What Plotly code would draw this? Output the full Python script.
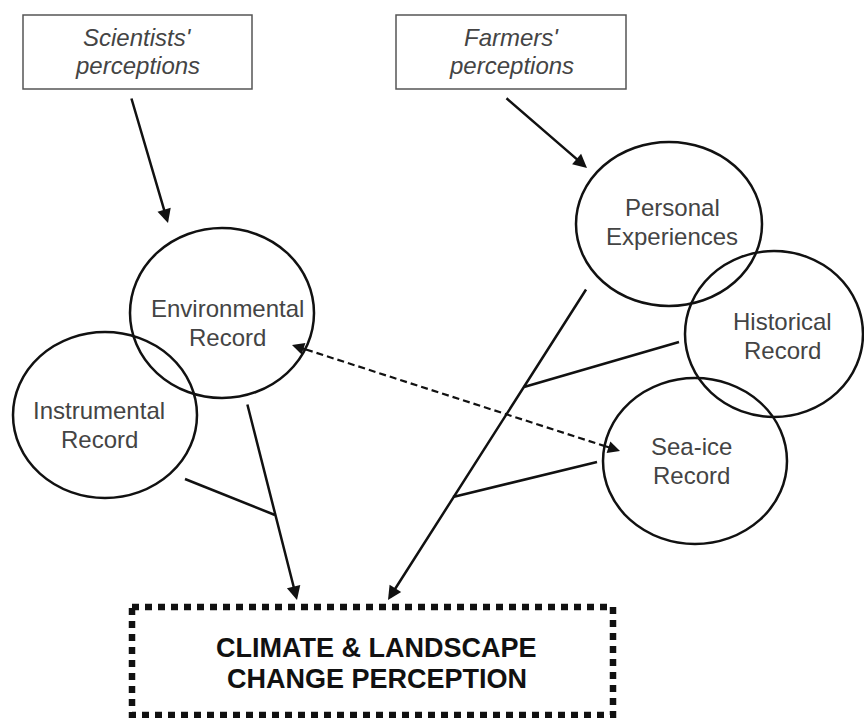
import plotly.graph_objects as go

W, H = 864, 718
FONT = "Liberation Sans, Arial, sans-serif"

# ---- diagram content ----
source_labels = ["Scientists'", "perceptions"], ["Farmers'", "perceptions"]
source_boxes = [(23, 15, 252, 89), (396, 15, 626, 89)]
source_text_x = [137, 511]
source_text_y = [37, 65]

node_labels = [
    ["Environmental", "Record"],
    ["Instrumental", "Record"],
    ["Personal", "Experiences"],
    ["Historical", "Record"],
    ["Sea-ice", "Record"],
]
node_cx = [222, 105, 669, 774, 695]
node_cy = [313, 415, 224, 334, 461]
node_rx = [92, 92, 93, 89, 92]
node_ry = [85, 83, 82, 83, 83]
label_x = [227, 99, 672, 782, 691]
label_y1 = [308, 410, 207, 321, 446]
line_gap = 29

target_label = ["CLIMATE & LANDSCAPE", "CHANGE PERCEPTION"]
target_box = (132, 607, 613, 715)
target_text_y = [648, 679]

# arrows: (tail x, tail y, head x, head y)
arrows = [
    (131, 97, 168, 223),   # scientists -> environmental
    (505, 97, 587, 168),   # farmers -> personal
    (247, 403, 297, 600),  # scientific records -> target
    (587, 288, 388, 600),  # farmer records -> target
]
# plain connector lines
connectors = [
    (185, 479, 275, 515),  # instrumental -> branch
    (679, 342, 524, 387),  # historical -> branch
    (597, 462, 453, 497),  # sea-ice -> branch
]
# dashed two-way link
dashed = (292, 345, 620, 451)

fig = go.Figure()
fig.add_trace(go.Scatter(x=[0, W], y=[0, H], mode="markers",
                         marker=dict(opacity=0), hoverinfo="skip", showlegend=False))

shapes = []
annotations = []

# source boxes
for (x0, y0, x1, y1), lines, tx in zip(source_boxes, source_labels, source_text_x):
    shapes.append(dict(type="rect", x0=x0, y0=y0, x1=x1, y1=y1, xref="x", yref="y",
                       line=dict(color="#555555", width=1.5), fillcolor="white"))
    for t, ty in zip(lines, source_text_y):
        annotations.append(dict(x=tx, y=ty, xref="x", yref="y", text=f"<i>{t}</i>",
                                showarrow=False, font=dict(family=FONT, size=24, color="#444444"),
                                xanchor="center", yanchor="middle"))

# circles
for cx, cy, rx, ry in zip(node_cx, node_cy, node_rx, node_ry):
    shapes.append(dict(type="circle", x0=cx - rx, x1=cx + rx, y0=cy - ry, y1=cy + ry,
                       xref="x", yref="y", line=dict(color="#111111", width=2.5)))
for lines, lx, ly in zip(node_labels, label_x, label_y1):
    for i, t in enumerate(lines):
        annotations.append(dict(x=lx, y=ly + i * line_gap, xref="x", yref="y", text=t,
                                showarrow=False, font=dict(family=FONT, size=24, color="#444444"),
                                xanchor="center", yanchor="middle"))

# connectors
for x0, y0, x1, y1 in connectors:
    shapes.append(dict(type="line", x0=x0, y0=y0, x1=x1, y1=y1, xref="x", yref="y",
                       line=dict(color="#111111", width=2.5)))

# arrows
for x0, y0, x1, y1 in arrows:
    annotations.append(dict(x=x1, y=y1, ax=x0, ay=y0, xref="x", yref="y", axref="x", ayref="y",
                            text="", showarrow=True, arrowhead=2, arrowsize=1.1, arrowwidth=2.5,
                            arrowcolor="#111111", standoff=0, startstandoff=0))

# dashed two-way arrow
dx0, dy0, dx1, dy1 = dashed
shapes.append(dict(type="line", x0=dx0 + 14, y0=dy0 + 4.5, x1=dx1 - 14, y1=dy1 - 4.5,
                   xref="x", yref="y", line=dict(color="#111111", width=2.2, dash="7px,4px")))
annotations.append(dict(x=dx1, y=dy1, ax=dx1 - 16, ay=dy1 - 5.2, xref="x", yref="y",
                        axref="x", ayref="y", text="", showarrow=True, arrowhead=2,
                        arrowsize=1.1, arrowwidth=2.2, arrowcolor="#111111", standoff=0))
annotations.append(dict(x=dx0, y=dy0, ax=dx0 + 16, ay=dy0 + 5.2, xref="x", yref="y",
                        axref="x", ayref="y", text="", showarrow=True, arrowhead=2,
                        arrowsize=1.1, arrowwidth=2.2, arrowcolor="#111111", standoff=0))

# target box
x0, y0, x1, y1 = target_box
shapes.append(dict(type="rect", x0=x0, y0=y0, x1=x1, y1=y1, xref="x", yref="y",
                   line=dict(color="#111111", width=6.5, dash="7px,6px")))
for t, ty in zip(target_label, target_text_y):
    annotations.append(dict(x=(x0 + x1) / 2 + 4, y=ty, xref="x", yref="y", text=f"<b>{t}</b>",
                            showarrow=False, font=dict(family=FONT, size=27, color="#111111"),
                            xanchor="center", yanchor="middle"))

fig.update_layout(
    width=W, height=H, margin=dict(l=0, r=0, t=0, b=0),
    paper_bgcolor="white", plot_bgcolor="white",
    xaxis=dict(range=[0, W], visible=False, fixedrange=True),
    yaxis=dict(range=[H, 0], visible=False, fixedrange=True),
    shapes=shapes, annotations=annotations, showlegend=False,
)

fig.write_html(
    "out.html",
    config={"displayModeBar": False},
    post_script="document.body.style.margin='0';document.body.style.overflow='hidden';",
)
